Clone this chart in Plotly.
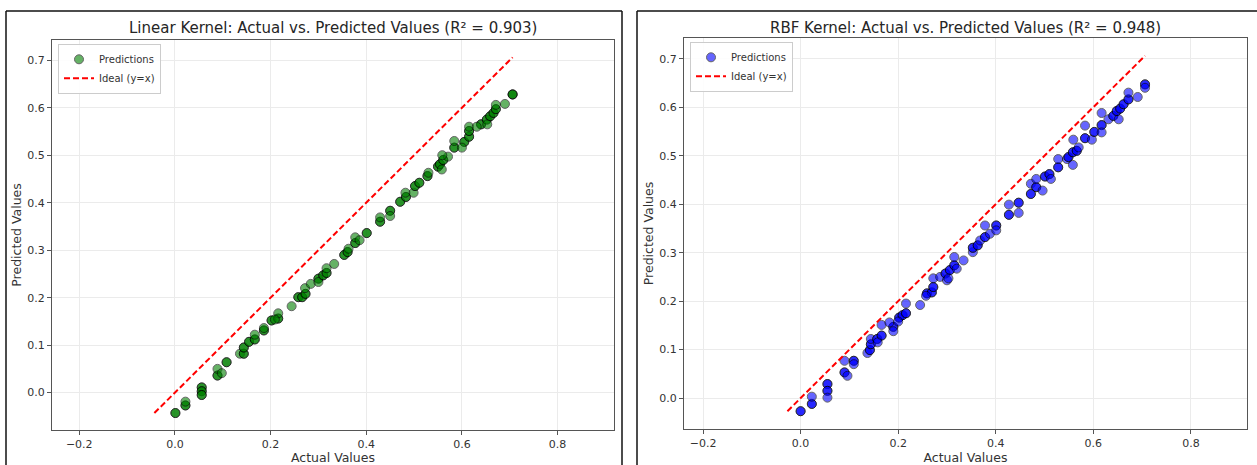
import plotly.graph_objects as go

# ---------------- data ----------------
# Linear kernel: actual vs predicted (dark points in the picture are overlapping pairs)
lin_actual = [
    0.001, 0.001, 0.022, 0.022, 0.022,
    0.056, 0.056, 0.056, 0.056, 0.056, 0.056,
    0.089, 0.089, 0.089, 0.098, 0.108, 0.108,
    0.136, 0.144, 0.144, 0.144, 0.144, 0.155, 0.155, 0.167, 0.167, 0.167,
    0.186, 0.186, 0.186, 0.202, 0.202, 0.216, 0.216, 0.216, 0.209,
    0.244, 0.258, 0.258, 0.266, 0.266, 0.273, 0.273, 0.272, 0.284,
    0.300, 0.300, 0.300, 0.310, 0.310, 0.317, 0.317, 0.317, 0.333,
    0.354, 0.354, 0.361, 0.361, 0.363, 0.377, 0.377, 0.377, 0.386, 0.401, 0.401,
    0.429, 0.429, 0.429, 0.450, 0.450, 0.450,
    0.471, 0.471, 0.483, 0.483, 0.482, 0.499,
    0.502, 0.502, 0.511, 0.511, 0.528, 0.528, 0.530, 0.550, 0.550, 0.554, 0.554,
    0.561, 0.561, 0.558, 0.571, 0.559,
    0.584, 0.584, 0.584, 0.605, 0.605, 0.600, 0.615, 0.615, 0.615, 0.615, 0.615,
    0.640, 0.640, 0.652, 0.652, 0.659, 0.659, 0.666, 0.666, 0.671, 0.671, 0.671,
    0.653, 0.631, 0.690, 0.706, 0.706, 0.706,
]
lin_pred = [
    -0.043, -0.043, -0.027, -0.027, -0.019,
    0.011, 0.011, 0.003, 0.003, -0.005, -0.005,
    0.036, 0.036, 0.050, 0.041, 0.064, 0.064,
    0.082, 0.082, 0.082, 0.095, 0.095, 0.107, 0.107, 0.112, 0.112, 0.122,
    0.131, 0.131, 0.136, 0.152, 0.152, 0.156, 0.156, 0.167, 0.154,
    0.182, 0.201, 0.201, 0.201, 0.201, 0.208, 0.208, 0.220, 0.229,
    0.240, 0.240, 0.233, 0.247, 0.247, 0.252, 0.252, 0.262, 0.271,
    0.290, 0.290, 0.296, 0.296, 0.303, 0.315, 0.315, 0.327, 0.321, 0.336, 0.336,
    0.360, 0.360, 0.369, 0.383, 0.383, 0.372,
    0.402, 0.402, 0.412, 0.412, 0.421, 0.421,
    0.435, 0.435, 0.442, 0.442, 0.456, 0.456, 0.463, 0.476, 0.476, 0.481, 0.481,
    0.490, 0.490, 0.470, 0.497, 0.500,
    0.516, 0.516, 0.530, 0.528, 0.528, 0.516, 0.539, 0.539, 0.551, 0.551, 0.560,
    0.565, 0.565, 0.575, 0.575, 0.582, 0.582, 0.589, 0.589, 0.597, 0.597, 0.606,
    0.565, 0.560, 0.608, 0.628, 0.628, 0.628,
]

# RBF kernel: actual vs predicted
rbf_actual = [
    0.000, 0.000, 0.023, 0.023, 0.023,
    0.055, 0.055, 0.055, 0.055, 0.055,
    0.090, 0.090, 0.090, 0.096, 0.109, 0.109, 0.109,
    0.137, 0.142, 0.142, 0.144, 0.144, 0.144, 0.157, 0.157, 0.166, 0.166, 0.166, 0.158,
    0.190, 0.190, 0.190, 0.182, 0.202, 0.202, 0.209, 0.209, 0.216, 0.216, 0.216, 0.245, 0.200,
    0.259, 0.259, 0.269, 0.269, 0.272, 0.272, 0.272, 0.257,
    0.286, 0.297, 0.297, 0.300, 0.306, 0.306, 0.315, 0.315, 0.315, 0.320, 0.334, 0.303,
    0.353, 0.353, 0.353, 0.363, 0.363, 0.368, 0.378, 0.378, 0.378, 0.388, 0.401, 0.401, 0.401,
    0.427, 0.427, 0.427, 0.447, 0.447, 0.447,
    0.472, 0.472, 0.472, 0.483, 0.483, 0.483, 0.496, 0.501, 0.501, 0.510, 0.510, 0.513,
    0.528, 0.528, 0.528, 0.546, 0.549, 0.549, 0.558, 0.558, 0.558, 0.559, 0.566, 0.566, 0.570,
    0.583, 0.583, 0.583, 0.597, 0.602, 0.602, 0.617, 0.617, 0.617, 0.617, 0.631,
    0.641, 0.641, 0.652, 0.648, 0.648, 0.655, 0.655, 0.662, 0.662, 0.672, 0.672, 0.672,
    0.691, 0.706, 0.706, 0.706,
]
rbf_pred = [
    -0.027, -0.027, -0.012, -0.012, 0.003,
    0.029, 0.029, 0.015, 0.015, 0.001,
    0.053, 0.053, 0.077, 0.046, 0.077, 0.077, 0.070,
    0.093, 0.099, 0.099, 0.111, 0.111, 0.122, 0.122, 0.122, 0.129, 0.129, 0.151, 0.115,
    0.147, 0.147, 0.138, 0.156, 0.166, 0.166, 0.171, 0.171, 0.175, 0.175, 0.195, 0.192, 0.158,
    0.216, 0.216, 0.218, 0.218, 0.229, 0.229, 0.247, 0.211,
    0.250, 0.257, 0.257, 0.243, 0.264, 0.264, 0.274, 0.274, 0.291, 0.267, 0.284, 0.247,
    0.301, 0.310, 0.310, 0.315, 0.315, 0.325, 0.332, 0.332, 0.356, 0.339, 0.356, 0.356, 0.346,
    0.378, 0.378, 0.399, 0.403, 0.403, 0.382,
    0.421, 0.421, 0.442, 0.435, 0.435, 0.452, 0.428, 0.457, 0.457, 0.462, 0.462, 0.452,
    0.476, 0.476, 0.493, 0.493, 0.497, 0.497, 0.507, 0.507, 0.481, 0.533, 0.510, 0.510, 0.517,
    0.536, 0.536, 0.562, 0.533, 0.549, 0.549, 0.563, 0.563, 0.548, 0.588, 0.575,
    0.582, 0.582, 0.575, 0.592, 0.592, 0.597, 0.597, 0.606, 0.606, 0.616, 0.616, 0.630,
    0.621, 0.647, 0.647, 0.640,
]

panel_titles = [
    "Linear Kernel: Actual vs. Predicted Values (R² = 0.903)",
    "RBF Kernel: Actual vs. Predicted Values (R² = 0.948)",
]
x_ticks = [-0.2, 0.0, 0.2, 0.4, 0.6, 0.8]
y_ticks = [0.0, 0.1, 0.2, 0.3, 0.4, 0.5, 0.6, 0.7]

# ---------------- figure ----------------
W, H = 1257, 465
FONT = "DejaVu Sans"
fig = go.Figure()

panels = [
    dict(actual=lin_actual, pred=lin_pred, color="#008000", xa="x", ya="y", legend="legend",
         px=(52, 614), py=(40, 432), xr=(-0.257, 0.918), yr=(-0.079, 0.743)),
    dict(actual=rbf_actual, pred=rbf_pred, color="#0000ff", xa="x2", ya="y2", legend="legend2",
         px=(684, 1247), py=(38, 431), xr=(-0.239, 0.915), yr=(-0.064, 0.743)),
]

for i, p in enumerate(panels):
    fig.add_trace(go.Scatter(
        x=p["actual"], y=p["pred"], mode="markers", name="Predictions",
        xaxis=p["xa"], yaxis=p["ya"], legend=p["legend"],
        marker=dict(size=9, color=p["color"], opacity=0.6,
                    line=dict(color="black", width=1)),
    ))
    lo = min(min(p["actual"]), min(p["pred"]))
    hi = max(max(p["actual"]), max(p["pred"]))
    fig.add_trace(go.Scatter(
        x=[lo, hi], y=[lo, hi], mode="lines", name="Ideal (y=x)",
        xaxis=p["xa"], yaxis=p["ya"], legend=p["legend"],
        line=dict(color="#ff0000", width=2, dash="6px,3px"),
    ))

axis_common = dict(
    showline=True, linecolor="#555555", linewidth=1, mirror=True,
    showgrid=True, gridcolor="#ebebeb", gridwidth=1, zeroline=False,
    ticks="outside", ticklen=4, tickcolor="#555555",
    tickfont=dict(family=FONT, size=11, color="#333333"),
    tickformat=".1f",
    title_font=dict(family=FONT, size=12.5, color="#333333"),
)

layout = dict(
    width=W, height=H, margin=dict(l=0, r=0, t=0, b=0),
    paper_bgcolor="white", plot_bgcolor="white",
    font=dict(family=FONT),
    showlegend=True,
)
for i, p in enumerate(panels):
    suffix = "" if i == 0 else "2"
    xd = [p["px"][0] / W, p["px"][1] / W]
    yd = [1 - p["py"][1] / H, 1 - p["py"][0] / H]
    layout["xaxis" + suffix] = dict(axis_common, domain=xd, range=list(p["xr"]),
                                    tickvals=x_ticks, anchor="y" + suffix,
                                    title=dict(text="Actual Values", standoff=5))
    layout["yaxis" + suffix] = dict(axis_common, domain=yd, range=list(p["yr"]),
                                    tickvals=y_ticks, anchor="x" + suffix,
                                    title=dict(text="Predicted Values", standoff=2))
    layout["legend" + suffix] = dict(
        x=(p["px"][0] + 6) / W, y=1 - (p["py"][0] + 4) / H, xanchor="left", yanchor="top",
        bgcolor="rgba(255,255,255,0.9)", bordercolor="#cccccc", borderwidth=1,
        font=dict(family=FONT, size=10, color="#333333"), itemwidth=30,
        tracegroupgap=0,
    )
fig.update_layout(**layout)

# panel titles
for i, p in enumerate(panels):
    fig.add_annotation(
        text=panel_titles[i], xref="paper", yref="paper",
        x=(p["px"][0] + p["px"][1]) / 2 / W, y=1 - 28 / H,
        xanchor="center", yanchor="middle", showarrow=False,
        font=dict(family=FONT, size=15, color="#262626"),
    )

# screenshot panel frames
frame = dict(type="line", xref="paper", yref="paper", line=dict(color="#111111", width=1.5))
fig.add_shape(**frame, x0=6 / W, x1=6 / W, y0=-0.05, y1=1 - 11 / H)
fig.add_shape(**frame, x0=6 / W, x1=622 / W, y0=1 - 11 / H, y1=1 - 11 / H)
fig.add_shape(**frame, x0=622 / W, x1=622 / W, y0=-0.05, y1=1 - 11 / H)
fig.add_shape(**frame, x0=637 / W, x1=637 / W, y0=-0.05, y1=1 - 11 / H)
fig.add_shape(**frame, x0=637 / W, x1=1.01, y0=1 - 11 / H, y1=1 - 11 / H)

fig.write_html("out.html")
